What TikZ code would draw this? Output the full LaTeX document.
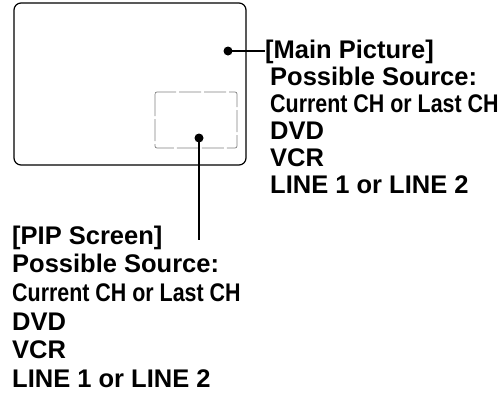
\documentclass[tikz,border=0pt]{standalone}
\usepackage{fontspec}
\usepackage{graphicx}
\setmainfont{Liberation Sans}
\begin{document}
\begin{tikzpicture}[x=1pt,y=-1pt,
  lbl/.style={anchor=base west,inner sep=0pt,font=\fontsize{25.5}{30}\selectfont\bfseries},
  conn/.style={line width=1.3pt},
  dotst/.style={circle,fill=black,inner sep=0pt,minimum size=9pt}]
\useasboundingbox (0,0) rectangle (501,394);
\draw[line width=1.2pt,rounded corners=7pt] (14,3) rectangle (246,165);
\draw[gray,line width=0.7pt,rounded corners=2pt,dash pattern=on 22pt off 3pt] (155,92) rectangle (237,148);
\node[dotst] (md) at (228,51) {};
\node[dotst] (pd) at (199,138) {};
\coordinate (pe) at (199,240);
% main picture text
\node[lbl] (m1) at (265,58) {[Main Picture]};
\node[lbl] (m2) at (270,85) {Possible Source:};
\node[lbl] (m3) at (270,112) {\scalebox{0.84}[1]{Current CH or Last CH}};
\node[lbl] (m4) at (270,139) {DVD};
\node[lbl] (m5) at (270,166) {VCR};
\node[lbl] (m6) at (270,193) {LINE 1 or LINE 2};
% PIP text
\node[lbl] (p1) at (12,244) {[PIP Screen]};
\node[lbl] (p2) at (12,272) {Possible Source:};
\node[lbl] (p3) at (12,301) {\scalebox{0.84}[1]{Current CH or Last CH}};
\node[lbl] (p4) at (12,330) {DVD};
\node[lbl] (p5) at (12,358) {VCR};
\node[lbl] (p6) at (12,387) {LINE 1 or LINE 2};
\draw[conn] (md.center) -- (m1.west |- md.center);
\draw[conn] (pd.center) -- (pe);
\end{tikzpicture}
\end{document}
